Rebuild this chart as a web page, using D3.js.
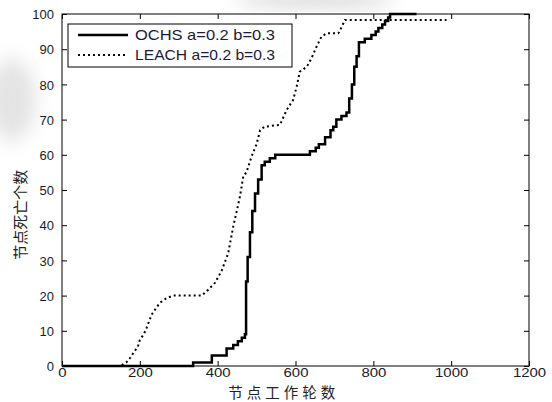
<!DOCTYPE html>
<html>
<head>
<meta charset="utf-8">
<script src="https://cdn.jsdelivr.net/npm/d3@7"></script>
<style>
  body { margin: 0; background: #fff; }
  svg { display: block; }
  .tick text { font-family: "Liberation Sans", Arial, sans-serif; font-size: 13px; fill: #1a1a2a; }
</style>
</head>
<body>
<div id="chart"></div>
<script>
// rounds vs. dead nodes
const ochsRounds = [0, 337, 385, 423, 440, 452, 462, 470, 473, 477, 483, 489, 496, 504, 513, 521, 534, 548, 633, 637, 652, 660, 676, 690, 697, 705, 718, 731, 738, 745, 751, 757, 763, 778, 795, 806, 813, 823, 830, 838, 843, 911];
const ochsDead   = [0, 1, 3, 5, 6, 7, 8, 9, 24, 31, 38, 44, 49, 53, 57, 58, 59, 60, 60, 61, 62, 63, 65, 67, 68, 70, 71, 72, 76, 80, 85, 88, 92, 93, 94, 95, 96, 97, 98, 99, 100, 100];

const leachRounds = [0, 149, 165, 175, 185, 195, 200, 210, 218, 230, 242, 252, 269, 286, 359, 375, 393, 410, 427, 440, 449, 457, 466, 474, 487, 500, 509, 521, 560, 577, 594, 603, 611, 629, 641, 654, 667, 680, 710, 719, 727, 988];
const leachDead   = [0, 0, 1, 2.3, 4, 5.5, 7.4, 9, 11, 14.5, 16.5, 18, 19.3, 20, 20, 21.6, 23.6, 27, 32, 39.6, 44, 48, 54, 55, 59.5, 63, 67, 68, 68.5, 72.7, 75.6, 79.4, 83.6, 85, 87.4, 90.7, 93.6, 94.5, 94.5, 96.4, 98.3, 98.3];

const xTicks = [0, 200, 400, 600, 800, 1000, 1200];
const yTicks = [0, 10, 20, 30, 40, 50, 60, 70, 80, 90, 100];
const legendLabels = ["OCHS a=0.2 b=0.3", "LEACH a=0.2 b=0.3"];
const xTitle = "节点工作轮数";
const yTitle = "节点死亡个数";

const W = 552, H = 402;
const margin = {top: 14, right: 23, bottom: 36, left: 62};
const iw = W - margin.left - margin.right;
const ih = H - margin.top - margin.bottom;

const svg = d3.select("#chart").append("svg").attr("width", W).attr("height", H);

// faint grey smudges seen in the scan
const defs = svg.append("defs");
defs.append("filter").attr("id", "blur").attr("x", "-50%").attr("y", "-50%").attr("width", "200%").attr("height", "200%")
  .append("feGaussianBlur").attr("stdDeviation", 9);
svg.append("ellipse").attr("cx", 12).attr("cy", 100).attr("rx", 24).attr("ry", 42)
  .attr("fill", "#a0a0a0").attr("opacity", 0.28).attr("filter", "url(#blur)");
svg.append("ellipse").attr("cx", 315).attr("cy", 0).attr("rx", 80).attr("ry", 6)
  .attr("fill", "#909090").attr("opacity", 0.45).attr("filter", "url(#blur)");

const g = svg.append("g").attr("transform", `translate(${margin.left},${margin.top})`);

const x = d3.scaleLinear().domain([0, 1200]).range([0, iw]);
const y = d3.scaleLinear().domain([0, 100]).range([ih, 0]);

// axes with inward ticks on all four sides
const xAxis = g.append("g").attr("transform", `translate(0,${ih})`)
  .call(d3.axisBottom(x).tickValues(xTicks).tickFormat(d3.format("d"))
    .tickSizeInner(-5).tickSizeOuter(0).tickPadding(2));
const yAxis = g.append("g")
  .call(d3.axisLeft(y).tickValues(yTicks).tickSizeInner(-5).tickSizeOuter(0).tickPadding(8));
g.append("g").call(d3.axisTop(x).tickValues(xTicks).tickSizeInner(-5).tickSizeOuter(0).tickFormat(""));
g.append("g").attr("transform", `translate(${iw},0)`)
  .call(d3.axisRight(y).tickValues(yTicks).tickSizeInner(-5).tickSizeOuter(0).tickFormat(""));

g.selectAll(".domain").remove();
g.selectAll(".tick line").attr("stroke", "#000");
xAxis.selectAll(".tick text").attr("transform", "scale(1.15,1)");
yAxis.selectAll(".tick text").attr("dy", "0.36em");

g.append("rect").attr("width", iw).attr("height", ih)
  .attr("fill", "none").attr("stroke", "#000").attr("stroke-width", 1);

const ochs = ochsRounds.map((r, i) => [r, ochsDead[i]]);
const leach = leachRounds.map((r, i) => [r, leachDead[i]]);

g.append("path").datum(ochs)
  .attr("fill", "none").attr("stroke", "#000").attr("stroke-width", 2.5)
  .attr("d", d3.line().x(d => x(d[0])).y(d => y(d[1])).curve(d3.curveStepAfter));

g.append("path").datum(leach)
  .attr("fill", "none").attr("stroke", "#000").attr("stroke-width", 2)
  .attr("stroke-dasharray", "2,3")
  .attr("d", d3.line().x(d => x(d[0])).y(d => y(d[1])));

// legend
const lg = g.append("g").attr("transform", "translate(6,10)");
lg.append("rect").attr("width", 224).attr("height", 43)
  .attr("fill", "#fff").attr("stroke", "#000").attr("stroke-width", 1);
const styles = [{w: 2.5, dash: null}, {w: 2, dash: "2,3"}];
legendLabels.forEach((t, i) => {
  const yy = 11 + i * 20;
  lg.append("line").attr("x1", 10).attr("x2", 60).attr("y1", yy).attr("y2", yy)
    .attr("stroke", "#000").attr("stroke-width", styles[i].w)
    .attr("stroke-dasharray", styles[i].dash);
  lg.append("text").attr("x", 67).attr("y", yy).attr("dy", "0.36em")
    .attr("font-family", "Liberation Sans, Arial, sans-serif").attr("font-size", 15)
    .attr("fill", "#1a1a3a")
    .attr("textLength", 140).attr("lengthAdjust", "spacingAndGlyphs")
    .text(t);
});

// axis titles
svg.append("text").attr("x", margin.left + x(570)).attr("y", H - 4)
  .attr("text-anchor", "middle").attr("font-family", "Noto Sans CJK SC")
  .attr("font-size", 14.5).attr("letter-spacing", 4).attr("fill", "#222")
  .text(xTitle);
svg.append("text").attr("transform", `translate(26,${margin.top + y(43)}) rotate(-90)`)
  .attr("text-anchor", "middle").attr("font-family", "Noto Sans CJK SC")
  .attr("font-size", 15).attr("fill", "#222")
  .text(yTitle);
</script>
</body>
</html>
